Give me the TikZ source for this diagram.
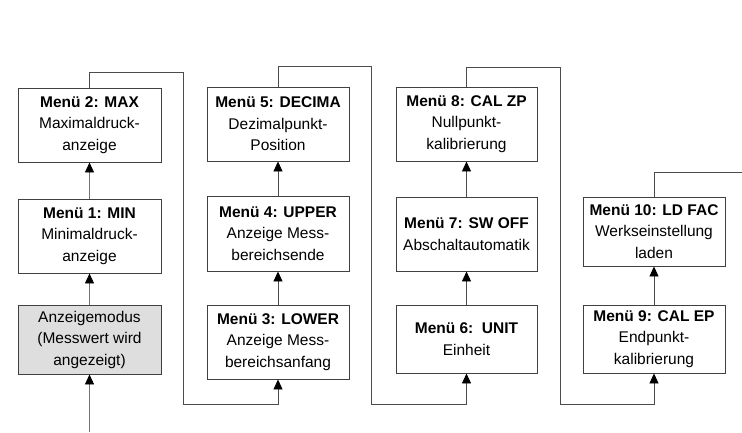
\documentclass[tikz,border=0pt]{standalone}
\usepackage{fontspec}
\setmainfont{Liberation Sans}
\usetikzlibrary{arrows.meta}
\begin{document}
\begin{tikzpicture}[x=1pt,y=1pt,
  box/.style={draw=black!75, line width=0.9pt, fill=white, align=center, inner sep=0pt,
    font=\fontsize{15.5}{21.5}\selectfont},
  conn/.style={draw=black!70, line width=0.9pt},
  arr/.style={conn, -{Triangle[width=9pt,length=10pt,color=black,fill=black]}}]
\useasboundingbox (0,0) rectangle (742,-432);
% column 1
\node[box, minimum width=143pt, minimum height=74pt] (m2) at (89.5,-125) {\textbf{Menü 2: MAX}\\Maximaldruck-\\anzeige};
\node[box, minimum width=143pt, minimum height=74pt] (m1) at (89.5,-236) {\textbf{Menü 1: MIN}\\Minimaldruck-\\anzeige};
\node[box, minimum width=143pt, minimum height=69pt, fill=black!13] (az) at (89.5,-339.5) {Anzeigemodus\\(Messwert wird\\angezeigt)};
% column 2
\node[box, minimum width=142pt, minimum height=74pt] (m5) at (278,-124) {\textbf{Menü 5: DECIMA}\\Dezimalpunkt-\\Position};
\node[box, minimum width=142pt, minimum height=75pt] (m4) at (278,-233.5) {\textbf{Menü 4: UPPER}\\Anzeige Mess-\\bereichsende};
\node[box, minimum width=142pt, minimum height=74pt] (m3) at (278,-342) {\textbf{Menü 3: LOWER}\\Anzeige Mess-\\bereichsanfang};
% column 3
\node[box, minimum width=141pt, minimum height=74pt] (m8) at (466.5,-124) {\textbf{Menü 8: CAL ZP}\\Nullpunkt-\\kalibrierung};
\node[box, minimum width=141pt, minimum height=74pt] (m7) at (466.5,-234) {\textbf{Menü 7: SW OFF}\\Abschaltautomatik};
\node[box, minimum width=141pt, minimum height=68pt] (m6) at (466.5,-339) {\textbf{Menü 6:\ \ UNIT}\\Einheit};
% column 4
\node[box, minimum width=142pt, minimum height=69pt] (m10) at (654,-231.5) {\textbf{Menü 10: LD FAC}\\Werkseinstellung\\laden};
\node[box, minimum width=142pt, minimum height=68pt] (m9) at (654,-339) {\textbf{Menü 9: CAL EP}\\Endpunkt-\\kalibrierung};
% coordinates
\coordinate (start) at (89.5,-432);
\coordinate (a1) at (89.5,-72);
\coordinate (a2) at (183,-72);
\coordinate (a3) at (183,-404);
\coordinate (a4) at (278,-404);
\coordinate (b1) at (278,-66);
\coordinate (b2) at (371,-66);
\coordinate (b3) at (371,-404);
\coordinate (b4) at (466.5,-404);
\coordinate (c1) at (466.5,-67);
\coordinate (c2) at (560,-67);
\coordinate (c3) at (560,-404);
\coordinate (c4) at (654,-404);
\coordinate (d1) at (654,-172);
\coordinate (d2) at (742,-172);
% connectors
\draw[arr, draw=black!55] (start) -- (az);
\draw[arr, draw=black!55] (az) -- (m1);
\draw[arr, draw=black!55] (m1) -- (m2);
\draw[arr] (m2.north) -- (a1) -- (a2) -- (a3) -- (a4) -- (m3.south);
\draw[arr] (m3) -- (m4);
\draw[arr] (m4) -- (m5);
\draw[arr] (m5.north) -- (b1) -- (b2) -- (b3) -- (b4) -- (m6.south);
\draw[arr] (m6) -- (m7);
\draw[arr] (m7) -- (m8);
\draw[arr] (m8.north) -- (c1) -- (c2) -- (c3) -- (c4) -- (m9.south);
\draw[arr] (m9) -- (m10);
\draw[conn] (m10.north) -- (d1) -- (d2);
\end{tikzpicture}
\end{document}
